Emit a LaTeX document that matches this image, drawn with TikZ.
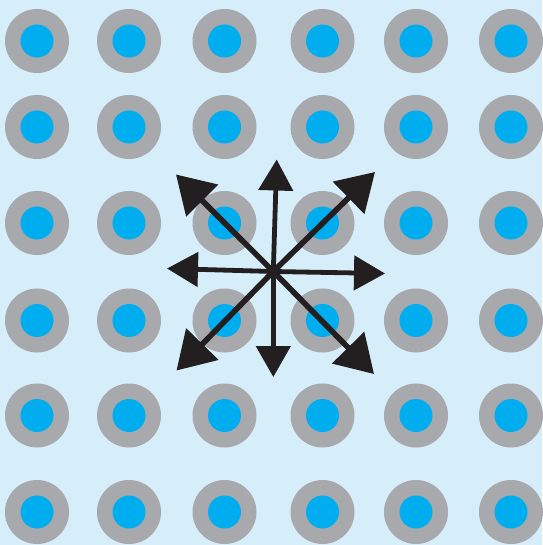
\documentclass[tikz,border=0pt]{standalone}
\usetikzlibrary{arrows.meta}
\definecolor{bgblue}{HTML}{D6EEFA}
\definecolor{ringgray}{HTML}{A7A9AC}
\definecolor{dotblue}{HTML}{00AEEF}
\definecolor{arrowblack}{HTML}{231F20}
\tikzset{
  ring/.style={fill=ringgray},
  dot/.style={fill=dotblue},
  straightarrow/.style={draw=arrowblack, line width=4.8pt, -{Triangle[length=31pt,width=34pt]}},
  diagarrow/.style={draw=arrowblack, line width=5.6pt, -{Triangle[length=37pt,width=44pt]}}
}
\begin{document}
\begin{tikzpicture}[x=1pt,y=-1pt]
\fill[bgblue] (0,0) rectangle (542,545);
\useasboundingbox (0,0) rectangle (542,545);
\foreach \cx in {37,129,224.5,322.5,416,511}{
  \foreach \cy in {41,127,223,320.5,415.5,512}{
    \fill[ring] (\cx,\cy) circle (32);
    \fill[dot] (\cx,\cy) circle (16.5);
  }
}
\coordinate (c) at (273.3,271.5);
\coordinate (up) at (276.7,159.5);
\coordinate (down) at (273.3,377);
\coordinate (left) at (167,268.5);
\coordinate (right) at (385,273.5);
\coordinate (ul) at (176,174.5);
\coordinate (ur) at (375,172);
\coordinate (dl) at (176.5,370.5);
\coordinate (dr) at (374,374);
\draw[straightarrow] (c) -- (up);
\draw[straightarrow] (c) -- (down);
\draw[straightarrow] (c) -- (left);
\draw[straightarrow] (c) -- (right);
\draw[diagarrow] (c) -- (ul);
\draw[diagarrow] (c) -- (ur);
\draw[diagarrow] (c) -- (dl);
\draw[diagarrow] (c) -- (dr);
\end{tikzpicture}
\end{document}
